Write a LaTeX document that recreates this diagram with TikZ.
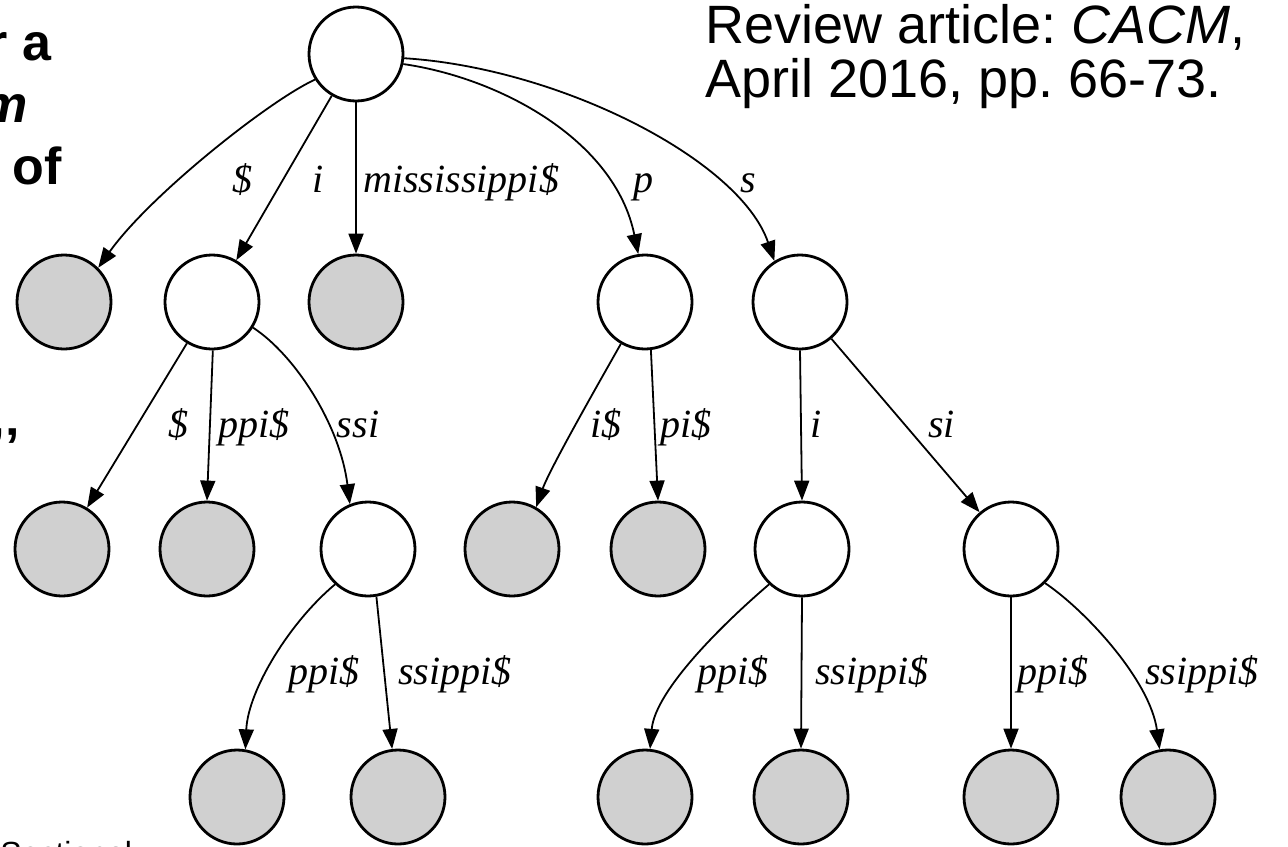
\documentclass[tikz,border=0pt]{standalone}
\usepackage{fontspec}
\setmainfont{Liberation Serif}
\setsansfont{Liberation Sans}
\usetikzlibrary{arrows.meta}
\definecolor{leafgray}{RGB}{208,208,208}
\frenchspacing
\begin{document}
\begin{tikzpicture}[x=0.5pt,y=-0.5pt,
  nd/.style={circle,draw,line width=1.4pt,minimum size=47pt,inner sep=0pt},
  lf/.style={nd,fill=leafgray},
  wh/.style={nd,fill=white},
  edge/.style={line width=0.9pt,-{Triangle[length=10pt,width=7.5pt]}},
  lab/.style={font=\fontsize{20}{24}\selectfont\itshape,inner sep=0pt},
  slide/.style={font=\fontsize{26}{30}\selectfont\sffamily\bfseries,inner sep=0pt},
  ref/.style={font=\fontsize{27}{32}\selectfont\sffamily,inner sep=0pt,anchor=base west}]
\clip (0,0) rectangle (1288,846);
\fill[white] (0,0) rectangle (1288,846);

% nodes
\node[wh] (root) at (356,54) {};
\node[lf] (a1) at (64,302) {};
\node[wh] (ni) at (212,302) {};
\node[lf] (a3) at (356,302) {};
\node[wh] (np) at (645,302) {};
\node[wh] (ns) at (800,302) {};
\node[lf] (b1) at (62,549) {};
\node[lf] (b2) at (207,549) {};
\node[wh] (nssi) at (368,549) {};
\node[lf] (b4) at (512,549) {};
\node[lf] (b5) at (658,549) {};
\node[wh] (nsi1) at (802,549) {};
\node[wh] (nsi) at (1011,549) {};
\node[lf] (c1) at (237,797) {};
\node[lf] (c2) at (398,797) {};
\node[lf] (c3) at (645,797) {};
\node[lf] (c4) at (801,797) {};
\node[lf] (c5) at (1011,797) {};
\node[lf] (c6) at (1168,797) {};

% edges
\draw[edge] (root.212) .. controls (270,100) and (150,195) .. (a1.45);
\draw[edge] (root) -- (ni);
\draw[edge] (root.270) -- (a3.90);
\draw[edge] (root.-12) .. controls (500,78) and (615,140) .. (np.98);
\draw[edge] (root.-5) .. controls (560,68) and (740,160) .. (ns.122);
\draw[edge] (ni) -- (b1);
\draw[edge] (ni.271) -- (b2.90);
\draw[edge] (ni.-32) .. controls (295,355) and (340,425) .. (nssi.112);
\draw[edge] (np.240) .. controls (605,372) and (550,468) .. (b4.60);
\draw[edge] (np.277) -- (b5.90);
\draw[edge] (ns.270) -- (nsi1.90);
\draw[edge] (ns) -- (nsi);
\draw[edge] (nssi.227) .. controls (290,622) and (248,690) .. (c1.80);
\draw[edge] (nssi.280) -- (c2.97);
\draw[edge] (nsi1.227) .. controls (725,622) and (655,690) .. (c3.84);
\draw[edge] (nsi1.270) -- (c4.90);
\draw[edge] (nsi.270) -- (c5.90);
\draw[edge] (nsi.-45) .. controls (1085,610) and (1150,680) .. (c6.100);

% edge labels
\node[lab,anchor=base] (l1) at (242,192) {\$};
\node[lab,anchor=base] (l2) at (318,192) {i};
\node[lab,anchor=base west] (l3) at (363,192) {mississippi\$};
\node[lab,anchor=base west] (l4) at (633,192) {p};
\node[lab,anchor=base] (l5) at (748,192) {s};
\node[lab,anchor=base] (l6) at (178,437) {\$};
\node[lab,anchor=base west] (l7) at (218,437) {ppi\$};
\node[lab,anchor=base] (l8) at (358,437) {ssi};
\node[lab,anchor=base west] (l9) at (590,437) {i\$};
\node[lab,anchor=base west] (l10) at (660,437) {pi\$};
\node[lab,anchor=base west] (l11) at (810,437) {i};
\node[lab,anchor=base west] (l12) at (928,437) {si};
\node[lab,anchor=base west] (l13) at (288,684) {ppi\$};
\node[lab,anchor=base west] (l14) at (398,684) {ssippi\$};
\node[lab,anchor=base west] (l15) at (697,684) {ppi\$};
\node[lab,anchor=base west] (l16) at (815,684) {ssippi\$};
\node[lab,anchor=base west] (l17) at (1017,684) {ppi\$};
\node[lab,anchor=base west] (l18) at (1145,684) {ssippi\$};

% slide text fragments
\node[slide,anchor=base east] (t1) at (52,60) {r a};
\node[slide,anchor=base east] (t2) at (28,122) {\itshape m};
\node[slide,anchor=base east] (t3) at (62,184) {of};
\node[slide,anchor=north east] (t4) at (20,428) {”’};
\node[font=\fontsize{16}{19}\selectfont\sffamily,inner sep=0pt,anchor=base west] (t5) at (0,864) {Sectional};
\node[ref] (r1) at (705,43) {Review article: \textit{CACM},};
\node[ref] (r2) at (705,97) {April 2016, pp. 66-73.};
\end{tikzpicture}
\end{document}
